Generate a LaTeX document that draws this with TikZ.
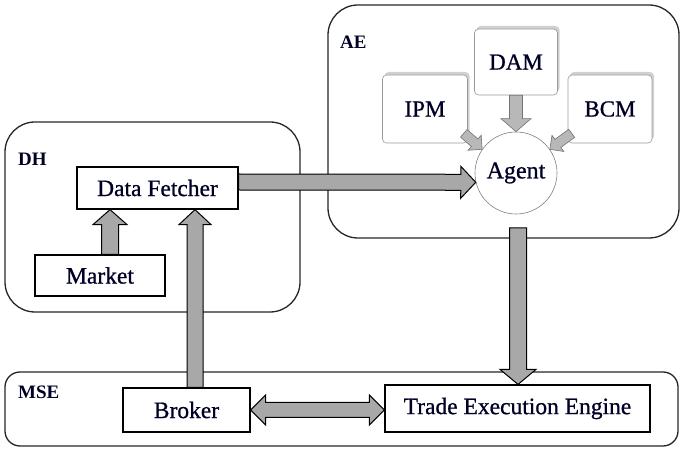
\documentclass[tikz,border=0pt]{standalone}
\usepackage{fontspec}
\setmainfont{Liberation Serif}
\newfontfamily\heavyserif[FakeBold=0.8]{Liberation Serif}
\usetikzlibrary{calc,shadows}
\definecolor{agray}{HTML}{A8A8A8}
\definecolor{lgray}{HTML}{B8B8B8}
\newcommand\blkarrow[6]{%
  \coordinate (BAh) at ($(#3)!#6!(#2)$);
  \draw[#1] ($(#2)!#4!90:(#3)$) -- ($(BAh)!#4!90:(#3)$) -- ($(BAh)!#5!90:(#3)$) -- (#3) -- ($(BAh)!#5!-90:(#3)$) -- ($(BAh)!#4!-90:(#3)$) -- ($(#2)!#4!-90:(#3)$) -- cycle;}
\newcommand\dblarrow[6]{%
  \coordinate (DAa) at ($(#2)!#6!(#3)$);
  \coordinate (DAb) at ($(#3)!#6!(#2)$);
  \draw[#1] (#2) -- ($(DAa)!#5!90:(#3)$) -- ($(DAa)!#4!90:(#3)$) -- ($(DAb)!#4!-90:(#2)$) -- ($(DAb)!#5!-90:(#2)$) -- (#3) -- ($(DAb)!#5!90:(#2)$) -- ($(DAb)!#4!90:(#2)$) -- ($(DAa)!#4!-90:(#3)$) -- ($(DAa)!#5!-90:(#3)$) -- cycle;}
\begin{document}
\begin{tikzpicture}[x=1pt,y=-1pt,
  cont/.style={draw=black!85, line width=1.3pt, inner sep=0pt},
  lbl/.style={anchor=west, inner sep=0pt, text=black!85!blue, font=\fontsize{19}{21}\selectfont\bfseries},
  box/.style={draw=black, line width=1.2pt, fill=white, inner sep=0pt, text=black!85!blue, font=\fontsize{23.5}{26}\heavyserif},
  mod/.style={draw=black!40, line width=0.6pt, rounded corners=4pt, fill=white, inner sep=0pt,
    text=black!85!blue, font=\fontsize{23}{26}\heavyserif,
    drop shadow={shadow xshift=2pt, shadow yshift=3pt, fill=black!18, opacity=1}},
  agt/.style={circle, draw=black!50, line width=0.6pt, fill=white, inner sep=0pt, minimum size=82pt,
    text=black!85!blue, font=\fontsize{24}{26}\heavyserif},
  bigar/.style={draw=black, line width=1pt, fill=agray, line join=miter},
  smar/.style={draw=black!55, line width=0.6pt, fill=lgray, line join=miter}]
\useasboundingbox (0,0) rectangle (681,449);
% containers
\node[cont, rounded corners=30pt, minimum width=351pt, minimum height=233pt] (ae) at (503.5,121.5) {};
\node[cont, rounded corners=30pt, minimum width=295pt, minimum height=190pt] (dh) at (152.5,217) {};
\node[cont, rounded corners=15pt, minimum width=673pt, minimum height=74pt] (mse) at (341.5,409) {};
\node[lbl] (aelbl) at (340,42) {AE};
\node[lbl] (dhlbl) at (18,159) {DH};
\node[lbl] (mselbl) at (18,392) {MSE};
% nodes
\node[box, minimum width=161pt, minimum height=42pt] (df) at (157.5,188) {Data Fetcher};
\node[box, minimum width=130pt, minimum height=41pt] (mk) at (100,275.5) {Market};
\node[box, minimum width=127pt, minimum height=44pt] (br) at (186.5,410) {Broker};
\node[box, minimum width=265pt, minimum height=47pt] (tee) at (517.5,408.5) {Trade Execution Engine};
\node[mod, minimum width=83pt, minimum height=66pt] (dam) at (516,62) {DAM};
\node[mod, minimum width=85pt, minimum height=68pt] (ipm) at (425,109) {IPM};
\node[mod, minimum width=84pt, minimum height=68pt] (bcm) at (610,109) {BCM};
\node[agt] (ag) at (516,173) {Agent};
% connector end points
\coordinate (dfout) at ($(df.east)+(0,-6)$);
\coordinate (agin) at (ag.193);
\coordinate (mkout) at ($(mk.north)+(10,0)$);
\coordinate (dfin1) at (mkout |- df.south);
\coordinate (brout) at ($(br.north)+(8.5,0)$);
\coordinate (dfin2) at (brout |- df.south);
\coordinate (aeout) at (518,228);
\coordinate (teein) at (aeout |- tee.north);
\coordinate (brr) at (br.east);
\coordinate (teel) at (br.east -| tee.west);
\coordinate (ipmout) at ($(ipm.south east)+(-4,-10)$);
\coordinate (bcmout) at ($(bcm.south west)+(4,-10)$);
% arrows
\blkarrow{bigar}{dfout}{agin}{8pt}{16pt}{15pt}
\blkarrow{bigar}{mkout}{dfin1}{8.5pt}{17pt}{15pt}
\blkarrow{bigar}{brout}{dfin2}{8pt}{16pt}{15pt}
\blkarrow{bigar}{aeout}{teein}{8.5pt}{18pt}{15pt}
\dblarrow{bigar}{brr}{teel}{7.5pt}{15pt}{15pt}
\blkarrow{smar}{dam.south}{ag.north}{6.5pt}{15pt}{13pt}
\blkarrow{smar}{ipmout}{ag.145}{5pt}{10pt}{10pt}
\blkarrow{smar}{bcmout}{ag.35}{5pt}{10pt}{10pt}
\end{tikzpicture}
\end{document}
